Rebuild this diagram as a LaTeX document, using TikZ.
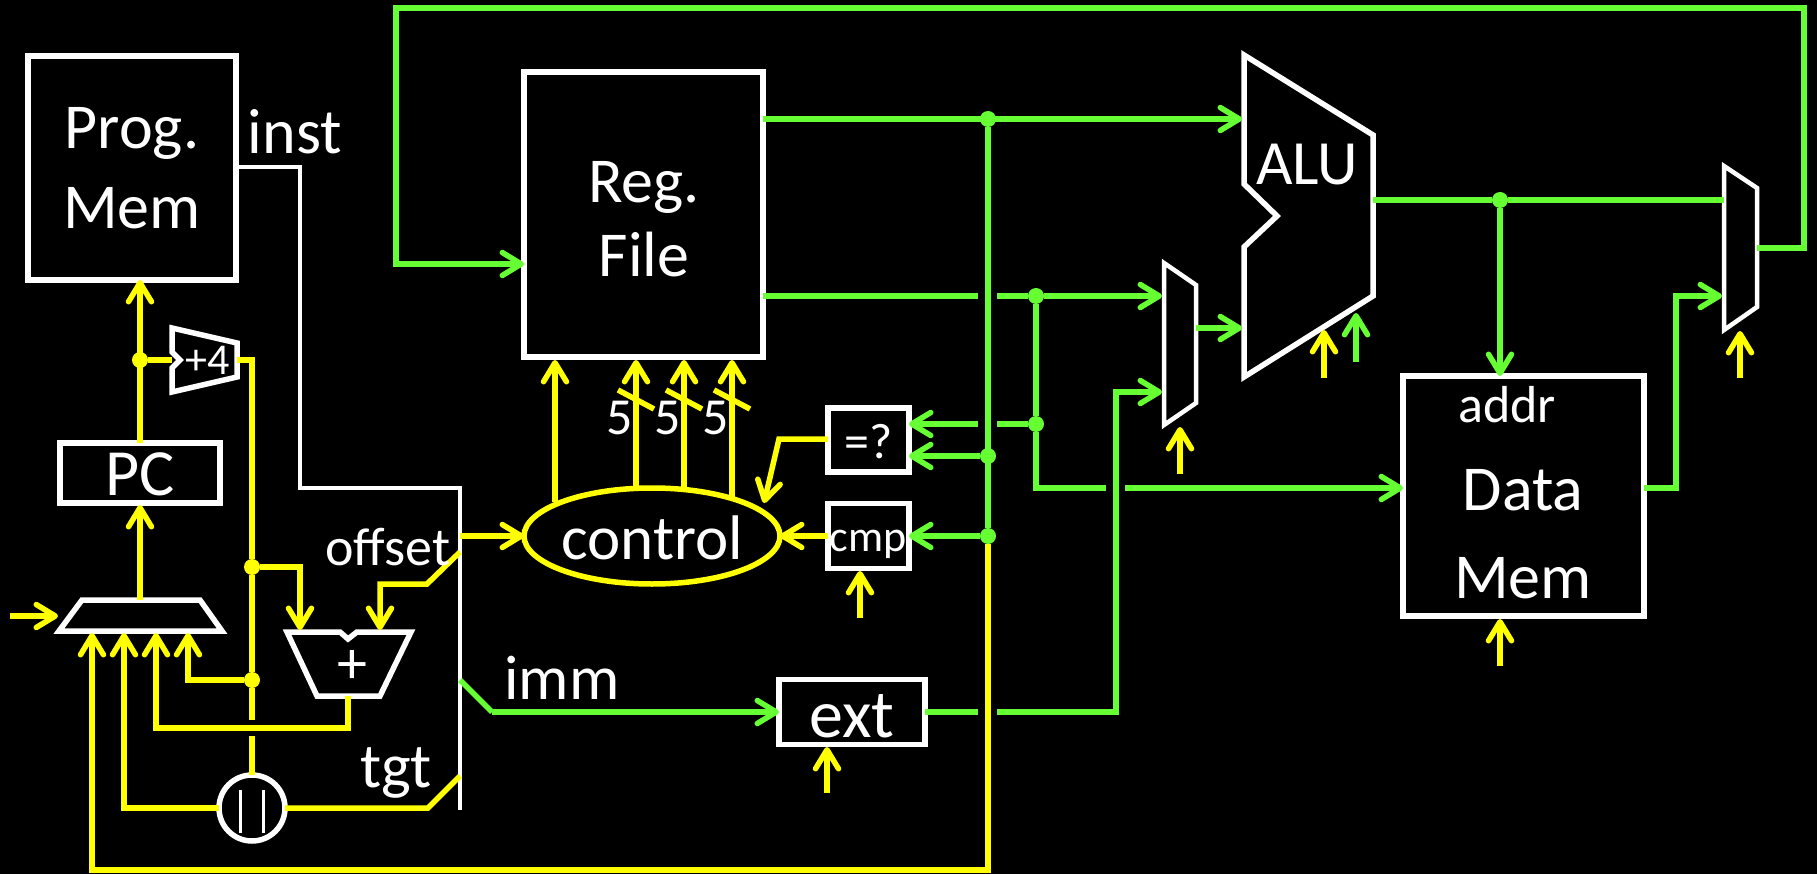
\documentclass[tikz,border=0pt]{standalone}
\usepackage{fontspec}
\setmainfont{Carlito}
\usetikzlibrary{arrows.meta,shapes.geometric}
\definecolor{wgreen}{HTML}{66FF33}
\definecolor{wyellow}{HTML}{FFFF00}
\newcommand{\fs}[1]{\fontsize{#1}{#1}\selectfont}
\tikzset{
  x=1pt,y=-1pt,
  outer sep=0pt,
  barb/.style={-{Straight Barb[length=19pt,width=23pt,line cap=round,line join=round]}},
  ylw/.style={draw=wyellow,line width=5.5pt,line join=miter},
  grn/.style={draw=wgreen,line width=5.5pt,line join=miter},
  ya/.style={ylw,barb},
  ga/.style={grn,barb},
  shapeline/.style={draw=white,line width=5.5pt,line join=miter},
  box/.style={shapeline,fill=black,inner sep=0pt,text=white,align=center,anchor=north west},
  lbl/.style={text=white,inner sep=0pt,align=center},
  yjunction/.style={circle,fill=wyellow,inner sep=0pt,minimum size=16pt},
  gjunction/.style={circle,fill=wgreen,inner sep=0pt,minimum size=16pt},
}
\begin{document}
\begin{tikzpicture}
\useasboundingbox[fill=black] (0,0) rectangle (1817,874);
% boxes
\node[box,minimum width=208pt,minimum height=224pt] (prog) at (28,56) {};
\node[box,minimum width=239pt,minimum height=285pt] (reg) at (524,72) {};
\node[box,minimum width=160pt,minimum height=60pt] (pc) at (60,443) {};
\node[box,minimum width=81pt,minimum height=64pt] (eq) at (828,408) {};
\node[box,minimum width=81pt,minimum height=65pt] (cmp) at (828,503.5) {};
\node[box,minimum width=146pt,minimum height=65pt] (ext) at (779,679.5) {};
\node[box,minimum width=241pt,minimum height=240pt] (dmem) at (1403,376) {};
\node[draw=wyellow,line width=5.5pt,ellipse,fill=black,minimum width=256pt,minimum height=96pt,inner sep=0pt] (ctrl) at (652,536) {};
\node[shapeline,circle,minimum size=66pt,inner sep=0pt,fill=black] (orgate) at (252,808) {};
% polygons
\draw[shapeline] (82,600) coordinate (pmt) -- (200,600) -- (222,631) -- (59,631) -- cycle;
\draw[shapeline] (172,328) -- (237,343) -- (237,377) -- (172,392) -- (172,368) -- (180,360) -- (172,352) -- cycle;
\draw[shapeline] (287,632) -- (340,632) -- (348,639) -- (357,632) -- (411,632) -- (380,696) -- (317,696) -- cycle;
\draw[shapeline] (1244,55) -- (1373,135) -- (1373,296) -- (1244,377) -- (1244,247) -- (1277,216) -- (1244,184) -- cycle;
\draw[shapeline,line width=4.5pt] (1164,263) -- (1196,285) -- (1196,403) -- (1164,425) -- cycle;
\draw[shapeline,line width=4.5pt] (1724,166) -- (1757,188) -- (1757,307) -- (1724,330) -- cycle;
% OR gate bars
\draw[white,line width=3pt] (240.5,790) -- (240.5,833);
\draw[white,line width=3pt] (263,790) -- (263,833);
% instruction bus
\draw[draw=white,line width=4.5pt,line join=miter] (prog.east |- 0,167) -- (300,167) -- (300,488) -- (460,488) -- (460,810);
% coordinates and junctions
\node[yjunction] (j1) at (140,360) {};
\node[yjunction] (j2) at (252,567) {};
\node[yjunction] (j3) at (252,680) {};
\node[gjunction] (g1) at (988,119) {};
\node[gjunction] (g2) at (988,456) {};
\node[gjunction] (g3) at (988,536) {};
\node[gjunction] (g4) at (1036,296) {};
\node[gjunction] (g5) at (1036,424) {};
\node[gjunction] (g6) at (1500,200) {};
% yellow
\draw[ya] (pc.north -| j1) -- (prog.south -| j1);
\draw[ylw] (j1) -- (172,360);
\draw[ylw] (237,360) -- (252,360) -- (j2) -- (j3) -- (252,720);
\draw[ylw] (252,736) -- (orgate.north);
\draw[ya] (140,600) -- (140,505);
\draw[ya] (10,616) -- (58,616);
\draw[ya] (j3) -- (188,680) -- (188,633);
\draw[ya] (j2) -- (300,567) -- (300,630);
\draw[ya] (460,552) -- (427,584) -- (380,584) -- (380,630);
\draw[ya] (348,696) -- (348,728) -- (156,728) -- (156,633);
\draw[ya] (orgate.west) -- (124,808) -- (124,633);
\draw[ylw] (orgate.east) -- (428,808) -- (460,776);
\draw[ya] (g3) -- (988,870) -- (92,870) -- (92,633);
\draw[ya] (460,536) -- (ctrl.west);
\draw[ya] (555,502) -- (555,360);
\draw[ya] (636,487) -- (636,360);
\draw[ya] (684,487) -- (684,360);
\draw[ya] (732,497) -- (732,360);
\draw[ylw] (618,390) -- (654,409);
\draw[ylw] (666,390) -- (702,409);
\draw[ylw] (714,390) -- (750,409);
\draw[ya] (eq.west |- 0,439) -- (779,439) -- (764,503);
\draw[ya] (cmp.west) -- (ctrl.east);
\draw[ya] (860,618) -- (860,571);
\draw[ya] (827,793) -- (827,747);
\draw[ya] (1180,474) -- (1180,427);
\draw[ya] (1324,378) -- (1324,330);
\draw[ya] (1740,378) -- (1740,331);
\draw[ya] (1500,666) -- (1500,619);
% green
\draw[ga] (reg.east |- g1) -- (1242,119);
\draw[grn] (g1) -- (g3);
\draw[grn] (reg.east |- g4) -- (978,296);
\draw[grn] (997,296) -- (g4);
\draw[ga] (g4) -- (1162,296);
\draw[grn] (g4) -- (g5) -- (1036,488) -- (1106,488);
\draw[ga] (1125,488) -- (dmem.west |- 0,488);
\draw[grn] (g5) -- (997,424);
\draw[ga] (978,424) -- (eq.east |- 0,424);
\draw[ga] (g2) -- (eq.east |- g2);
\draw[ga] (g3) -- (cmp.east);
\draw[grn] (460,680) -- (492,712);
\draw[ga] (492,712) -- (ext.west);
\draw[grn] (ext.east) -- (978,712);
\draw[ga] (997,712) -- (1116,712) -- (1116,392) -- (1162,392);
\draw[ga] (1196,328) -- (1242,328);
\draw[ga] (1356,362) -- (1356,313);
\draw[grn] (1373,200) -- (g6) -- (1724,200);
\draw[ga] (g6) -- (dmem.north -| g6);
\draw[ga] (dmem.east |- 0,488) -- (1676,488) -- (1676,296) -- (1722,296);
\draw[ga] (1757,248) -- (1804,248) -- (1804,8) -- (396,8) -- (396,264) -- (reg.west |- 0,264);
% labels
\node[lbl,font=\fs{64}] (t1) at (132,133) {Prog.};
\node[lbl,font=\fs{64}] (t2) at (132,208) {Mem};
\node[lbl,font=\fs{64}] (t3) at (295,132) {inst};
\node[lbl,font=\fs{64}] (t4) at (644,187) {Reg.};
\node[lbl,font=\fs{64}] (t5) at (644,255) {File};
\node[lbl,font=\fs{66}] (t6) at (140,474) {PC};
\node[lbl,font=\fs{44}] (t7) at (208,360) {+4};
\node[lbl,font=\fs{54}] (t8) at (388,547) {offset};
\node[lbl,font=\fs{63}] (t9) at (396,773) {tgt};
\node[lbl,font=\fs{63}] (t10) at (562,678) {imm};
\node[lbl,font=\fs{63}] (t11) at (652,538) {control};
\node[lbl,font=\fs{50}] (t12) at (869,442) {=?};
\node[lbl,font=\fs{44}] (t13) at (868,544) {cmp};
\node[lbl,font=\fs{68}] (t14) at (852,716) {ext};
\node[lbl,font=\fs{63}] (t15) at (1307,165) {ALU};
\node[lbl,font=\fs{52}] (t16) at (1507,405) {addr};
\node[lbl,font=\fs{64}] (t17) at (1523,490) {Data};
\node[lbl,font=\fs{64}] (t18) at (1523,578) {Mem};
\node[lbl,font=\fs{60}] (t19) at (352,667) {+};
\node[lbl,font=\fs{52}] (t20) at (620,418) {5};
\node[lbl,font=\fs{52}] (t21) at (668,418) {5};
\node[lbl,font=\fs{52}] (t22) at (716,418) {5};
\end{tikzpicture}
\end{document}
